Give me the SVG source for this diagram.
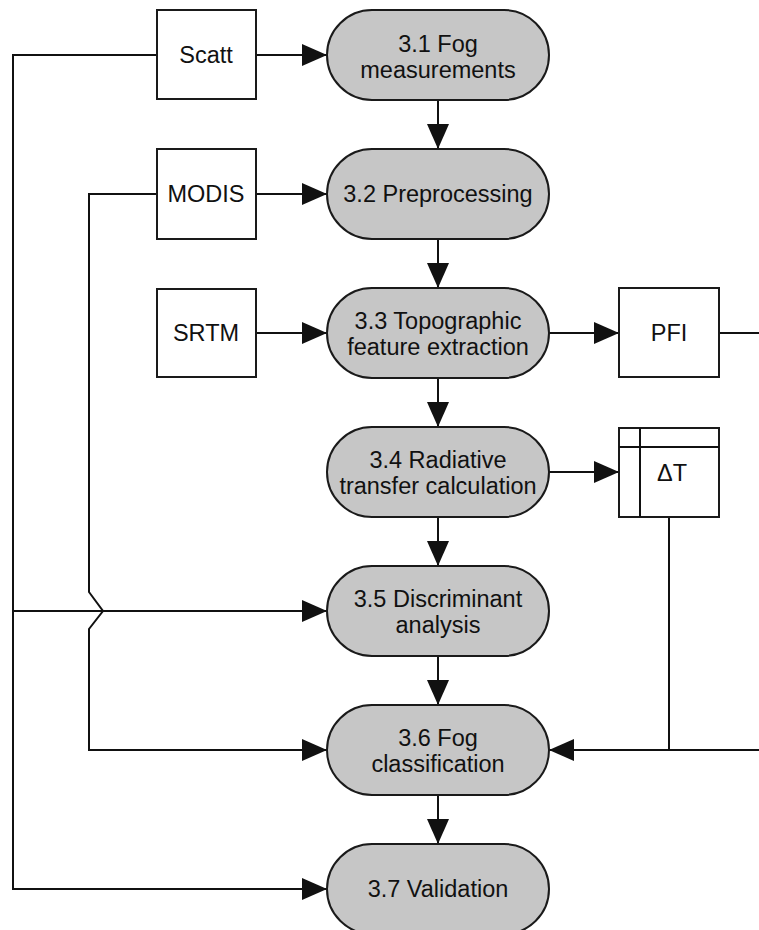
<svg xmlns="http://www.w3.org/2000/svg" width="759" height="930" viewBox="0 0 759 930">
  <style>
    .proc { fill: #c6c6c6; stroke: #1a1a1a; stroke-width: 2; }
    .store { fill: #ffffff; stroke: #1a1a1a; stroke-width: 2; }
    .wire { fill: none; stroke: #111111; stroke-width: 2; }
    text { font-family: "Liberation Sans", Arial, sans-serif; font-size: 23.5px; fill: #111111; text-anchor: middle; }
  </style>
  <defs>
    <marker id="arrow" viewBox="0 0 25 22" refX="25" refY="11" markerWidth="25" markerHeight="22" markerUnits="userSpaceOnUse" orient="auto">
      <path d="M0,0 L25,11 L0,22 Z" fill="#111111"/>
    </marker>
  </defs>
  <rect width="759" height="930" fill="#ffffff"/>

  <!-- connectors -->
  <g id="connectors">
    <!-- main chain -->
    <line class="wire" x1="438" y1="100" x2="438" y2="149" marker-end="url(#arrow)"/>
    <line class="wire" x1="438" y1="239" x2="438" y2="288" marker-end="url(#arrow)"/>
    <line class="wire" x1="438" y1="378" x2="438" y2="427" marker-end="url(#arrow)"/>
    <line class="wire" x1="438" y1="517" x2="438" y2="566" marker-end="url(#arrow)"/>
    <line class="wire" x1="438" y1="656" x2="438" y2="705" marker-end="url(#arrow)"/>
    <line class="wire" x1="438" y1="795" x2="438" y2="844" marker-end="url(#arrow)"/>
    <!-- inputs -->
    <line class="wire" x1="256" y1="55" x2="327" y2="55" marker-end="url(#arrow)"/>
    <line class="wire" x1="256" y1="194" x2="327" y2="194" marker-end="url(#arrow)"/>
    <line class="wire" x1="256" y1="333" x2="327" y2="333" marker-end="url(#arrow)"/>
    <!-- outputs -->
    <line class="wire" x1="549" y1="333" x2="619" y2="333" marker-end="url(#arrow)"/>
    <line class="wire" x1="549" y1="472" x2="619" y2="472" marker-end="url(#arrow)"/>
    <line class="wire" x1="719" y1="333" x2="759" y2="333"/>
    <!-- Scatt feed to 3.5 and 3.7 -->
    <path class="wire" d="M157,55 H13 V889 H327" marker-end="url(#arrow)"/>
    <line class="wire" x1="13" y1="611" x2="327" y2="611" marker-end="url(#arrow)"/>
    <!-- MODIS feed to 3.6, hopping over the Scatt branch -->
    <path class="wire" d="M157,194 H89 V592 L103,611 L89,629 V750 H327" marker-end="url(#arrow)"/>
    <!-- PFI and ΔT feed to 3.6 -->
    <line class="wire" x1="669" y1="517" x2="669" y2="750"/>
    <line class="wire" x1="759" y1="750" x2="549" y2="750" marker-end="url(#arrow)"/>
  </g>

  <!-- data inputs -->
  <g id="scatt">
    <rect class="store" x="157" y="10" width="99" height="89"/>
    <text x="206" y="63">Scatt</text>
  </g>
  <g id="modis">
    <rect class="store" x="157" y="149" width="99" height="90"/>
    <text x="206" y="202">MODIS</text>
  </g>
  <g id="srtm">
    <rect class="store" x="157" y="289" width="99" height="88"/>
    <text x="206" y="341">SRTM</text>
  </g>
  <g id="pfi">
    <rect class="store" x="619" y="288" width="100" height="89"/>
    <text x="669" y="341">PFI</text>
  </g>
  <g id="delta-t">
    <rect class="store" x="619" y="428" width="100" height="89"/>
    <line class="wire" x1="619" y1="447" x2="719" y2="447"/>
    <line class="wire" x1="640" y1="428" x2="640" y2="517"/>
    <text x="672" y="481">ΔT</text>
  </g>

  <!-- processing steps -->
  <g id="step-3-1">
    <rect class="proc" x="327" y="10" width="222" height="90" rx="45" ry="45"/>
    <text x="438" y="52">3.1 Fog</text>
    <text x="438" y="78">measurements</text>
  </g>
  <g id="step-3-2">
    <rect class="proc" x="327" y="149" width="222" height="90" rx="45" ry="45"/>
    <text x="438" y="202">3.2 Preprocessing</text>
  </g>
  <g id="step-3-3">
    <rect class="proc" x="327" y="288" width="222" height="90" rx="45" ry="45"/>
    <text x="438" y="329">3.3 Topographic</text>
    <text x="438" y="355">feature extraction</text>
  </g>
  <g id="step-3-4">
    <rect class="proc" x="327" y="427" width="222" height="90" rx="45" ry="45"/>
    <text x="438" y="468">3.4 Radiative</text>
    <text x="438" y="494">transfer calculation</text>
  </g>
  <g id="step-3-5">
    <rect class="proc" x="327" y="566" width="222" height="90" rx="45" ry="45"/>
    <text x="438" y="607">3.5 Discriminant</text>
    <text x="438" y="633">analysis</text>
  </g>
  <g id="step-3-6">
    <rect class="proc" x="327" y="705" width="222" height="90" rx="45" ry="45"/>
    <text x="438" y="746">3.6 Fog</text>
    <text x="438" y="772">classification</text>
  </g>
  <g id="step-3-7">
    <rect class="proc" x="327" y="844" width="222" height="90" rx="45" ry="45"/>
    <text x="438" y="897">3.7 Validation</text>
  </g>
</svg>
